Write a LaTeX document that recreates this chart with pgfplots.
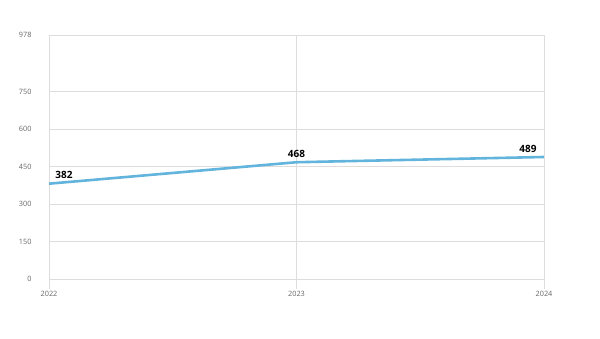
\documentclass[border=0pt]{standalone}
\usepackage{fontspec}
\setmainfont{Open Sans}
\usepackage{pgfplots}
\pgfplotsset{compat=1.18}
\usepackage{pgfplotstable}
\definecolor{linec}{HTML}{62B4DC}
\definecolor{gridc}{HTML}{DDDDDD}
\definecolor{tickc}{HTML}{666666}
\pgfplotstableread{
x y dx
2022 382 15
2023 468 0
2024 489 -16
}\datatable
\begin{document}
\begin{tikzpicture}[x=1pt,y=1pt]
\path[use as bounding box] (0,0) rectangle (600,339);
\begin{axis}[
  at={(49pt,60pt)}, anchor=south west,
  scale only axis, width=495pt, height=244pt,
  xmin=2022, xmax=2024, ymin=0, ymax=978,
  xtick={2022,2023,2024}, ytick={0,150,300,450,600,750,978},
  xticklabel style={/pgf/number format/1000 sep={}},
  /pgf/number format/assume math mode=true,
  ymajorgrids, xmajorgrids,
  grid style={gridc, line width=0.8pt},
  axis line style={gridc, line width=0.8pt},
  tick style={gridc, line width=0.8pt},
  ytick style={draw=none},
  xtick style={gridc},
  major tick length=10pt,
  xtick pos=bottom, ytick pos=left,
  tick align=outside,
  ticklabel style={font=\fontsize{7.3}{8}\selectfont, text=tickc},
  xticklabel style={yshift=1pt},
  yticklabel style={xshift=-4pt},
  clip=false,
]
\addplot[linec, line width=2.6pt,
  nodes near coords,
  visualization depends on={\thisrow{dx}\as\dx},
  every node near coord/.append style={font=\fontsize{10}{12}\selectfont\bfseries, text=black, anchor=south, yshift=0pt, xshift=\dx pt},
] table[x=x,y=y] {\datatable};
\end{axis}
\end{tikzpicture}
\end{document}
